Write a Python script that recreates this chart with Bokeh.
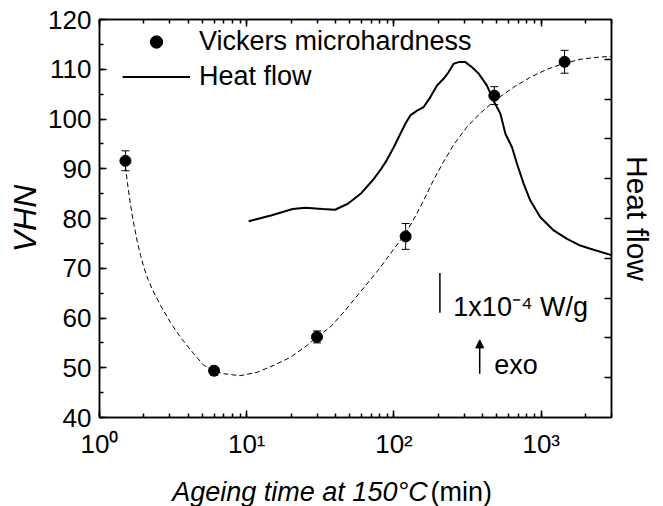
import math
from bokeh.plotting import figure
from bokeh.layouts import column
from bokeh.models import (Range1d, LogAxis, LinearAxis, FixedTicker, SingleIntervalTicker,
                          LogTicker, Whisker, TeeHead, Label, Arrow, NormalHead, Legend,
                          LegendItem, ColumnDataSource)
from bokeh.embed import file_html
from bokeh.resources import INLINE

# ---------------- data ----------------
HV_TIME = [1.5, 6, 30, 120, 480, 1440]
HV_VALUE = [91.6, 49.4, 56.2, 76.4, 104.7, 111.5]
HV_ERR = [2.0, 0.9, 1.2, 2.6, 1.8, 2.3]

FIT_TIME = [1.5, 1.55, 1.62, 1.7, 1.8, 1.9, 2.0, 2.14, 2.28, 2.59, 3.03, 3.55, 4.37, 5.1, 6.0,
            7.0, 9.0, 11.8, 15.3, 19.8, 25.7, 30, 37, 45.6, 59, 80, 100, 120, 140, 160, 186,
            217, 254, 313, 386, 451, 528, 650, 844, 1094, 1440, 1841, 2392, 3000]
FIT_VHN = [90.5, 87.0, 83.0, 79.3, 75.5, 72.6, 70.2, 67.7, 65.8, 62.6, 59.1, 56.1, 52.8, 50.5,
           49.4, 48.8, 48.4, 49.1, 50.5, 52.1, 54.5, 56.2, 58.2, 61.2, 65.2, 70.0, 73.9, 77.0,
           80.5, 83.8, 87.8, 91.4, 94.8, 98.4, 101.2, 102.9, 104.5, 106.4, 108.4, 110.0, 111.2,
           112.0, 112.4, 112.6]

HF_TIME = [10.3, 14.8, 20.5, 25, 32.7, 39.8, 48.6, 59.3, 72.4, 80.9, 89.8, 99.6, 110.5, 119.4,
           129, 143.4, 159, 176.6, 196, 217, 235, 254, 275, 305, 339, 376, 428, 475, 528, 571,
           633, 685, 760, 843, 986, 1215, 1497, 1842, 2153, 3000]
HF_SIGNAL = [4.93, 5.08, 5.24, 5.27, 5.24, 5.22, 5.37, 5.62, 5.98, 6.22, 6.48, 6.79, 7.13, 7.38,
             7.59, 7.71, 7.80, 8.05, 8.34, 8.51, 8.68, 8.89, 8.93, 8.93, 8.80, 8.64, 8.34, 7.96,
             7.63, 7.13, 6.79, 6.37, 5.87, 5.45, 5.03, 4.70, 4.49, 4.32, 4.24, 4.08]

X_TICKS = [1, 10, 100, 1000]
X_TICK_LABELS = ["10\u2070", "10\u00b9", "10\u00b2", "10\u00b3"]
Y_TICK_INTERVAL = 10
HF_TICKS = [1, 2, 3, 4, 5, 6, 7, 8, 9]

SCALE_BAR_T = 205
SCALE_BAR_LO, SCALE_BAR_HI = 2.63, 3.63
SCALE_TEXT = "1x10\u207b\u2074 W/g"
EXO_T = 382
EXO_LO, EXO_HI = 1.10, 1.95

X_TITLE_MAIN = "Ageing time at 150\u00b0C"
X_TITLE_UNIT = "(min)"
Y_TITLE = "VHN"
Y2_TITLE = "Heat flow"

# ---------------- figure ----------------
FONT = "Liberation Sans"
W = 663

p = figure(width=W, height=466, x_axis_type="log",
           x_range=Range1d(1, 3000), y_range=Range1d(40, 120),
           output_backend="svg", toolbar_location=None,
           min_border_left=99, min_border_right=52, min_border_top=19, min_border_bottom=49)
p.extra_y_ranges = {"hf": Range1d(0, 10)}
p.xgrid.visible = False
p.ygrid.visible = False
p.outline_line_color = "black"
p.outline_line_width = 1.5
p.background_fill_color = "white"
p.border_fill_color = "white"


def style_axis(ax, show_labels=True):
    ax.axis_line_color = "black"
    ax.axis_line_width = 1.5
    ax.major_tick_line_color = "black"
    ax.major_tick_line_width = 1.5
    ax.minor_tick_line_color = "black"
    ax.minor_tick_line_width = 1.5
    ax.major_tick_in = 7
    ax.major_tick_out = 0
    ax.minor_tick_in = 4
    ax.minor_tick_out = 0
    ax.major_label_text_font = FONT
    ax.major_label_text_color = "black"
    ax.axis_label_text_color = "black"
    ax.axis_label_text_font = FONT
    if not show_labels:
        ax.major_label_text_font_size = "1px"
        ax.major_label_text_color = None
        ax.major_label_standoff = 0


xa = p.xaxis[0]
xa.ticker = LogTicker(num_minor_ticks=10)
style_axis(xa)
xa.major_label_text_font_size = "26px"
xa.major_label_standoff = 11
xa.major_label_overrides = {t: lab for t, lab in zip(X_TICKS, X_TICK_LABELS)}

ya = p.yaxis[0]
ya.ticker = SingleIntervalTicker(interval=Y_TICK_INTERVAL, num_minor_ticks=2)
style_axis(ya)
ya.major_label_text_font_size = "26px"
ya.major_label_standoff = 8
ya.axis_label = Y_TITLE
ya.axis_label_text_font_style = "italic"
ya.axis_label_text_font_size = "32px"
ya.axis_label_standoff = 2

top = LogAxis(ticker=LogTicker(num_minor_ticks=10))
style_axis(top, show_labels=False)
p.add_layout(top, "above")

right = LinearAxis(y_range_name="hf", ticker=FixedTicker(ticks=HF_TICKS, minor_ticks=[]))
style_axis(right, show_labels=False)
right.minor_tick_line_color = None
right.axis_label = Y2_TITLE
right.axis_label_text_font_style = "normal"
right.axis_label_text_font_size = "30px"
right.axis_label_standoff = 9
p.add_layout(right, "right")

# fit curve
p.line(FIT_TIME, FIT_VHN, line_color="black", line_width=1, line_dash="5 3")

# heat flow
r_hf = p.line(HF_TIME, HF_SIGNAL, y_range_name="hf", line_color="black", line_width=2)

# hardness points with error bars
src = ColumnDataSource(dict(t=HV_TIME, v=HV_VALUE,
                            up=[v + e for v, e in zip(HV_VALUE, HV_ERR)],
                            lo=[v - e for v, e in zip(HV_VALUE, HV_ERR)]))
p.add_layout(Whisker(source=src, base="t", upper="up", lower="lo", dimension="height",
                     line_color="black", line_width=1,
                     upper_head=TeeHead(size=8, line_width=1, line_color="black"),
                     lower_head=TeeHead(size=8, line_width=1, line_color="black")))
r_hv = p.scatter("t", "v", source=src, size=11, color="black")

# legend
legend = Legend(items=[LegendItem(label="Vickers microhardness", renderers=[r_hv]),
                       LegendItem(label="Heat flow", renderers=[r_hf])],
                location=(23, 325), padding=0, margin=0, spacing=4,
                glyph_width=68, glyph_height=31, label_height=31, label_standoff=9,
                label_text_font=FONT, label_text_font_size="27px", label_text_color="black",
                border_line_color=None, background_fill_alpha=0)
p.add_layout(legend)

# scale bar and exo arrow
p.segment(x0=[SCALE_BAR_T], y0=[SCALE_BAR_LO], x1=[SCALE_BAR_T], y1=[SCALE_BAR_HI],
          y_range_name="hf", line_color="black", line_width=1.5)
p.add_layout(Label(x=253, y=2.77, y_range_name="hf", text=SCALE_TEXT, text_font=FONT,
                   text_font_size="27px", text_baseline="alphabetic", text_color="black"))
p.add_layout(Arrow(x_start=EXO_T, y_start=EXO_LO, x_end=EXO_T, y_end=EXO_HI, y_range_name="hf",
                   line_color="black", line_width=1.5,
                   end=NormalHead(size=8, fill_color="black", line_color="black")))
p.add_layout(Label(x=480, y=1.31, y_range_name="hf", text="exo", text_font=FONT,
                   text_font_size="27px", text_baseline="alphabetic", text_color="black"))

# ---------------- x title strip ----------------
TH = 40
t = figure(width=W, height=TH, x_range=Range1d(0, W), y_range=Range1d(0, TH),
           output_backend="svg", toolbar_location=None,
           x_axis_location=None, y_axis_location=None, min_border=0)
t.xgrid.visible = False
t.ygrid.visible = False
t.outline_line_color = None
t.background_fill_color = "white"
t.border_fill_color = "white"
t.add_layout(Label(x=425, y=14.3, text=X_TITLE_MAIN, text_font=FONT,
                   text_font_style="italic", text_font_size="27px", text_align="right",
                   text_baseline="alphabetic", text_color="black"))
t.add_layout(Label(x=428.5, y=14.3, text=X_TITLE_UNIT, text_font=FONT,
                   text_font_size="27px", text_align="left",
                   text_baseline="alphabetic", text_color="black"))

layout = column(p, t, spacing=0)
open("out.html", "w").write(file_html(layout, INLINE))
